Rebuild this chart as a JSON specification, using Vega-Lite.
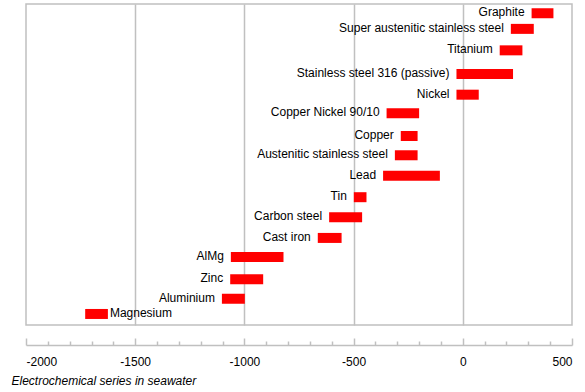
{
  "$schema": "https://vega.github.io/schema/vega-lite/v6.json",
  "width": 546,
  "height": 321,
  "autosize": "none",
  "padding": {"left": 26, "top": 4, "right": 13, "bottom": 67},
  "background": "white",
  "config": {
    "view": {"stroke": "#c0c0c0", "strokeWidth": 1.5},
    "font": "Liberation Sans"
  },
  "data": {
    "values": [
      {"metal": "Graphite", "lo": 315, "hi": 415, "pos": 15.54, "side": "left"},
      {"metal": "Super austenitic stainless steel", "lo": 220, "hi": 325, "pos": 14.76, "side": "left"},
      {"metal": "Titanium", "lo": 169, "hi": 273, "pos": 13.69, "side": "left"},
      {"metal": "Stainless steel 316 (passive)", "lo": -29, "hi": 230, "pos": 12.51, "side": "left"},
      {"metal": "Nickel", "lo": -29, "hi": 73, "pos": 11.48, "side": "left"},
      {"metal": "Copper Nickel 90/10", "lo": -349, "hi": -200, "pos": 10.55, "side": "left"},
      {"metal": "Copper", "lo": -284, "hi": -207, "pos": 9.42, "side": "left"},
      {"metal": "Austenitic stainless steel", "lo": -311, "hi": -207, "pos": 8.46, "side": "left"},
      {"metal": "Lead", "lo": -365, "hi": -105, "pos": 7.44, "side": "left"},
      {"metal": "Tin", "lo": -499, "hi": -441, "pos": 6.37, "side": "left"},
      {"metal": "Carbon steel", "lo": -612, "hi": -461, "pos": 5.37, "side": "left"},
      {"metal": "Cast iron", "lo": -664, "hi": -555, "pos": 4.34, "side": "left"},
      {"metal": "AlMg", "lo": -1062, "hi": -821, "pos": 3.39, "side": "left"},
      {"metal": "Zinc", "lo": -1065, "hi": -914, "pos": 2.28, "side": "left"},
      {"metal": "Aluminium", "lo": -1103, "hi": -998, "pos": 1.31, "side": "left"},
      {"metal": "Magnesium", "lo": -1729, "hi": -1625, "pos": 0.55, "side": "right"}
    ]
  },
  "layer": [
    {
      "mark": {"type": "bar", "color": "#ff0000", "height": 10},
      "encoding": {
        "x": {
          "field": "lo", "type": "quantitative",
          "scale": {"domain": [-2000, 500], "nice": false, "zero": false, "padding": 0},
          "axis": {
            "orient": "bottom", "values": [-1500, -1000, -500, 0],
            "grid": true, "gridColor": "#c0c0c0", "gridWidth": 1.5,
            "ticks": false, "labels": false, "domain": false, "title": null
          }
        },
        "x2": {"field": "hi"},
        "y": {
          "field": "pos", "type": "quantitative",
          "scale": {"domain": [0, 16], "nice": false, "zero": false, "padding": 0},
          "axis": null
        }
      }
    },
    {
      "transform": [{"filter": "datum.side == 'left'"}],
      "mark": {"type": "text", "align": "right", "baseline": "middle", "dx": -7, "dy": -1, "fontSize": 12, "color": "#000000"},
      "encoding": {
        "x": {
          "field": "lo", "type": "quantitative",
          "axis": {
            "orient": "bottom", "offset": 20,
            "values": [-2000, -1500, -1000, -500, 0, 500],
            "labelExpr": "'' + datum.value",
            "grid": false, "domain": true, "domainColor": "#c0c0c0", "domainWidth": 1.5,
            "tickColor": "#c0c0c0", "tickWidth": 1.5, "tickSize": -7,
            "labelFontSize": 12, "labelColor": "#000000", "labelPadding": 18,
            "labelFont": "Liberation Sans",
            "title": "Electrochemical series in seawater",
            "titleFontSize": 12, "titleFontWeight": "normal", "titleFontStyle": "italic",
            "titleColor": "#000000", "titleFont": "Liberation Sans",
            "titleAnchor": "start", "titleAlign": "left", "titleBaseline": "middle",
            "titleX": -15, "titleY": 35
          }
        },
        "y": {"field": "pos", "type": "quantitative"},
        "text": {"field": "metal"}
      }
    },
    {
      "transform": [{"filter": "datum.side == 'right'"}],
      "mark": {"type": "text", "align": "left", "baseline": "middle", "dx": 2, "dy": -1, "fontSize": 12, "color": "#000000"},
      "encoding": {
        "x": {
          "field": "hi", "type": "quantitative",
          "axis": {
            "orient": "bottom", "offset": 20,
            "values": [-1900, -1800, -1700, -1600, -1400, -1300, -1200, -1100, -900, -800, -700, -600, -400, -300, -200, -100, 100, 200, 300, 400],
            "grid": false, "domain": false, "labels": false,
            "tickColor": "#c0c0c0", "tickWidth": 1.5, "tickSize": -4, "title": null
          }
        },
        "y": {"field": "pos", "type": "quantitative"},
        "text": {"field": "metal"}
      }
    }
  ],
  "resolve": {"axis": {"x": "independent"}}
}
